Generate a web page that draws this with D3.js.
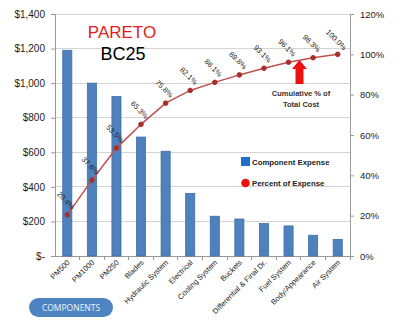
<!DOCTYPE html>
<html>
<head>
<meta charset="utf-8">
<script src="https://cdn.jsdelivr.net/npm/d3@7"></script>
<style>
  html, body { margin: 0; padding: 0; background: #fff; }
  svg { display: block; }
</style>
</head>
<body>
<svg id="chart" width="400" height="327"></svg>
<script>
// Component cost data for the BC25 Pareto chart
const components = ["PM500", "PM1000", "PM250", "Blades", "Hydraulic System", "Electrical",
  "Cooling System", "Buckets", "Differential & Final Dr.", "Fuel System", "Body/Appearance", "Air System"];
const expense = [1190, 1000, 922, 688, 606, 362, 230, 214, 188, 174, 120, 96];
const cumulativePct = [20.4, 37.6, 53.5, 65.3, 75.8, 82.1, 86.1, 89.8, 93.1, 96.1, 98.3, 100.0];
const dollarTicks = [0, 200, 400, 600, 800, 1000, 1200, 1400];
const pctTicks = [0, 20, 40, 60, 80, 100, 120];

const svg = d3.select("#chart");
const plot = { left: 55, right: 350, top: 14, bottom: 256 };

const x = d3.scaleBand().domain(components).range([plot.left, plot.right]).paddingInner(0).paddingOuter(0);
const yL = d3.scaleLinear().domain([0, 1400]).range([plot.bottom, plot.top]);
const yR = d3.scaleLinear().domain([0, 120]).range([plot.bottom, plot.top]);

const fmtDollar = v => v === 0 ? "$-" : "$" + d3.format(",")(v);

// horizontal gridlines
svg.append("g").selectAll("line").data(dollarTicks.filter(d => d > 0)).join("line")
  .attr("x1", plot.left).attr("x2", plot.right)
  .attr("y1", d => yL(d)).attr("y2", d => yL(d))
  .attr("stroke", "#d4d4d4").attr("stroke-width", 1).attr("shape-rendering", "crispEdges");

// left axis
const axL = svg.append("g").attr("transform", `translate(${plot.left},0)`)
  .call(d3.axisLeft(yL).tickValues(dollarTicks).tickFormat(fmtDollar).tickSize(4).tickPadding(6));
axL.select(".domain").attr("stroke", "#999");
axL.selectAll(".tick line").attr("stroke", "#999");
axL.selectAll("text").attr("font-family", "Liberation Sans, Arial, sans-serif")
  .attr("font-size", 10).attr("fill", "#222");

// right axis
const axR = svg.append("g").attr("transform", `translate(${plot.right},0)`)
  .call(d3.axisRight(yR).tickValues(pctTicks).tickFormat(d => d + "%").tickSize(4).tickPadding(6));
axR.select(".domain").attr("stroke", "#999");
axR.selectAll(".tick line").attr("stroke", "#999");
axR.selectAll("text").attr("font-family", "Liberation Sans, Arial, sans-serif")
  .attr("font-size", 9.5).attr("fill", "#222");

// bottom axis with ticks between categories
svg.append("line").attr("x1", plot.left).attr("x2", plot.right).attr("y1", plot.bottom).attr("y2", plot.bottom)
  .attr("stroke", "#999").attr("shape-rendering", "crispEdges");
svg.append("g").selectAll("line").data(components).join("line")
  .attr("x1", d => x(d) + x.bandwidth()).attr("x2", d => x(d) + x.bandwidth())
  .attr("y1", plot.bottom).attr("y2", plot.bottom + 4)
  .attr("stroke", "#999").attr("shape-rendering", "crispEdges");

// bars
const barW = x.bandwidth() * 0.37;
svg.append("g").selectAll("rect").data(components).join("rect")
  .attr("x", d => x(d) + (x.bandwidth() - barW) / 2)
  .attr("y", (d, i) => yL(expense[i]))
  .attr("width", barW)
  .attr("height", (d, i) => plot.bottom - yL(expense[i]))
  .attr("fill", "#4f81bd").attr("stroke", "#3d6ea8").attr("stroke-width", 0.8);

// category labels
svg.append("g").selectAll("text").data(components).join("text")
  .attr("transform", d => `translate(${x(d) + x.bandwidth() / 2 + 3},${plot.bottom + 7}) rotate(-45)`)
  .attr("text-anchor", "end")
  .attr("font-family", "Liberation Sans, Arial, sans-serif")
  .attr("font-size", 7.5).attr("fill", "#222")
  .text(d => d);

// cumulative percentage line
const cx = d => x(d) + x.bandwidth() / 2;
const line = d3.line().x((d, i) => cx(components[i])).y(d => yR(d));
svg.append("path").datum(cumulativePct).attr("d", line)
  .attr("fill", "none").attr("stroke", "#c0504d").attr("stroke-width", 1.5);
svg.append("g").selectAll("circle").data(cumulativePct).join("circle")
  .attr("cx", (d, i) => cx(components[i])).attr("cy", d => yR(d)).attr("r", 2.3)
  .attr("fill", "#a8302c").attr("stroke", "#a8302c");

// percentage labels
svg.append("g").selectAll("text").data(cumulativePct).join("text")
  .attr("transform", (d, i) => `translate(${cx(components[i]) - 1.5},${yR(d) - 14.5}) rotate(45)`)
  .attr("text-anchor", "middle").attr("dominant-baseline", "central")
  .attr("font-family", "Liberation Sans, Arial, sans-serif")
  .attr("font-size", 7.5).attr("fill", "#222")
  .text(d => d.toFixed(1) + "%");

// title
svg.append("text").attr("x", 122).attr("y", 38).attr("text-anchor", "middle")
  .attr("font-family", "Liberation Sans, Arial, sans-serif").attr("font-size", 17)
  .attr("fill", "#e31b23").text("PARETO");
svg.append("text").attr("x", 123).attr("y", 60).attr("text-anchor", "middle")
  .attr("font-family", "Liberation Sans, Arial, sans-serif").attr("font-size", 18)
  .attr("fill", "#000").text("BC25");

// annotation arrow and note
svg.append("path")
  .attr("d", "M299.5,60 L307,69 L303.5,69 L303.5,84 L295.5,84 L295.5,69 L292,69 Z")
  .attr("fill", "#ee1111");
svg.append("text").attr("x", 301).attr("y", 96).attr("text-anchor", "middle")
  .attr("font-family", "Liberation Sans, Arial, sans-serif").attr("font-size", 7.5)
  .attr("font-weight", "bold").attr("fill", "#333").text("Cumulative % of");
svg.append("text").attr("x", 301).attr("y", 107).attr("text-anchor", "middle")
  .attr("font-family", "Liberation Sans, Arial, sans-serif").attr("font-size", 7.5)
  .attr("font-weight", "bold").attr("fill", "#333").text("Total Cost");

// legend
svg.append("rect").attr("x", 241).attr("y", 157).attr("width", 9).attr("height", 9)
  .attr("fill", "#1f6fc9");
svg.append("text").attr("x", 252).attr("y", 165)
  .attr("font-family", "Liberation Sans, Arial, sans-serif").attr("font-size", 7.8)
  .attr("font-weight", "bold").attr("fill", "#222").text("Component Expense");
svg.append("circle").attr("cx", 245.5).attr("cy", 183).attr("r", 4.3).attr("fill", "#ee1111");
svg.append("text").attr("x", 252).attr("y", 186)
  .attr("font-family", "Liberation Sans, Arial, sans-serif").attr("font-size", 7.8)
  .attr("font-weight", "bold").attr("fill", "#222").text("Percent of Expense");

// components button
svg.append("rect").attr("x", 29).attr("y", 298).attr("width", 84).attr("height", 19)
  .attr("rx", 9.5).attr("fill", "#4f84c2");
svg.append("text").attr("x", 71).attr("y", 311).attr("text-anchor", "middle")
  .attr("font-family", "Open Sans, Liberation Sans, sans-serif").attr("font-size", 8.5)
  .attr("fill", "#eef3fa").text("COMPONENTS");
</script>
</body>
</html>
